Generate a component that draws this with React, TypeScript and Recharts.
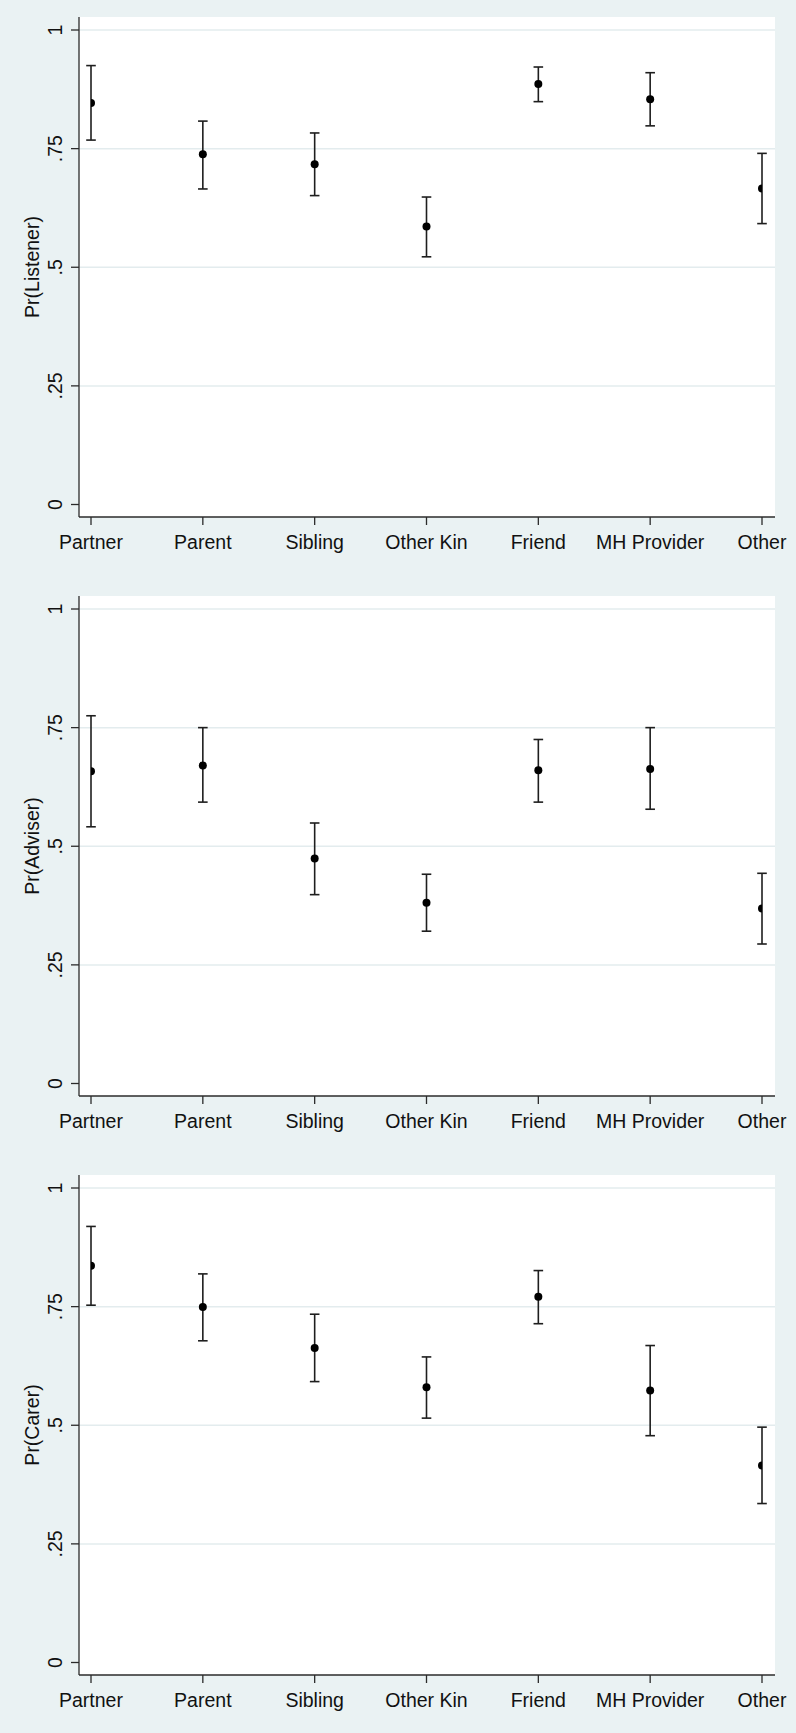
import React from 'react';
import {
  ScatterChart,
  Scatter,
  XAxis,
  YAxis,
  ErrorBar,
  ReferenceLine,
  CartesianGrid,
  Label,
} from 'recharts';

const categories = ['Partner', 'Parent', 'Sibling', 'Other Kin', 'Friend', 'MH Provider', 'Other'];

const listenerEst = [0.846, 0.738, 0.717, 0.586, 0.886, 0.854, 0.666];
const listenerLo = [0.768, 0.665, 0.651, 0.522, 0.849, 0.798, 0.592];
const listenerHi = [0.925, 0.808, 0.783, 0.648, 0.922, 0.910, 0.740];

const adviserEst = [0.658, 0.670, 0.474, 0.381, 0.660, 0.663, 0.369];
const adviserLo = [0.541, 0.593, 0.398, 0.321, 0.593, 0.578, 0.294];
const adviserHi = [0.775, 0.750, 0.549, 0.441, 0.725, 0.750, 0.443];

const carerEst = [0.836, 0.749, 0.663, 0.580, 0.771, 0.573, 0.415];
const carerLo = [0.753, 0.678, 0.592, 0.515, 0.714, 0.478, 0.335];
const carerHi = [0.919, 0.819, 0.734, 0.644, 0.826, 0.668, 0.496];

const yTicks = [0, 0.25, 0.5, 0.75, 1];
const yTickLabels = ['0', '.25', '.5', '.75', '1'];
const gridValues = [0.25, 0.5, 0.75, 1];
const xTicks = [1, 2, 3, 4, 5, 6, 7];

const FONT = '"Liberation Sans", Arial, sans-serif';
const AXIS = '#2b2b2b';
const FS = 19.5;

function buildData(est: number[], lo: number[], hi: number[]) {
  return categories.map((c, i) => ({
    x: i + 1,
    name: c,
    y: est[i],
    err: [est[i] - lo[i], hi[i] - est[i]],
  }));
}

const YTick = (props: any) => {
  const { x, y, payload } = props;
  const idx = yTicks.indexOf(payload.value);
  const lbl = idx >= 0 ? yTickLabels[idx] : String(payload.value);
  return (
    <text
      x={x}
      y={y}
      transform={`rotate(-90, ${x}, ${y})`}
      textAnchor="middle"
      fontSize={FS}
      fontFamily={FONT}
      fill="#111"
    >
      {lbl}
    </text>
  );
};

const XTick = (props: any) => {
  const { x, y, payload } = props;
  const lbl = categories[payload.value - 1] ?? '';
  return (
    <text x={x} y={y + 14} textAnchor="middle" fontSize={FS} fontFamily={FONT} fill="#111">
      {lbl}
    </text>
  );
};

const makeYLabel = (title: string) => (props: any) => {
  const vb = props.viewBox || {};
  const x = (vb.x ?? 0) + 39;
  const y = (vb.y ?? 0) + (vb.height ?? 0) / 2;
  return (
    <text
      x={x}
      y={y}
      transform={`rotate(-90, ${x}, ${y})`}
      textAnchor="middle"
      fontSize={FS}
      fontFamily={FONT}
      fill="#111"
    >
      {title}
    </text>
  );
};

const Dot = (props: any) => <circle cx={props.cx} cy={props.cy} r={4} fill="#000" />;

const CHART_H = 575;
const PLOT_H = 500;
const MT = 17;
const XH = 40;

function Panel({ top, title, data }: any) {
  return (
    <div style={{ position: 'absolute', left: 0, top, width: 796, height: CHART_H }}>
      <ScatterChart
        width={796}
        height={CHART_H}
        margin={{ top: MT, right: 21, left: 0, bottom: CHART_H - MT - PLOT_H - XH }}
      >
        <CartesianGrid fill="#ffffff" stroke="none" horizontal={false} vertical={false} />
        {gridValues.map((v) => (
          <ReferenceLine key={v} y={v} stroke="#E3ECEE" strokeWidth={1.5} />
        ))}
        <XAxis
          type="number"
          dataKey="x"
          domain={[1, 7]}
          ticks={xTicks}
          padding={{ left: 12, right: 13 }}
          height={XH}
          tickSize={8}
          tickMargin={9.5}
          axisLine={{ stroke: AXIS, strokeWidth: 1.3 }}
          tickLine={{ stroke: AXIS, strokeWidth: 1.3 }}
          tick={<XTick />}
          interval={0}
          allowDataOverflow
        />
        <YAxis
          type="number"
          dataKey="y"
          domain={[0, 1]}
          ticks={yTicks}
          padding={{ top: 13, bottom: 12.5 }}
          width={79}
          tickSize={8}
          tickMargin={9}
          axisLine={{ stroke: AXIS, strokeWidth: 1.3 }}
          tickLine={{ stroke: AXIS, strokeWidth: 1.3 }}
          tick={<YTick />}
          interval={0}
        >
          <Label content={makeYLabel(title)} />
        </YAxis>
        <Scatter data={data} shape={<Dot />} isAnimationActive={false}>
          <ErrorBar dataKey="err" direction="y" width={4.8} stroke="#1e1e1e" strokeWidth={1.6} />
        </Scatter>
      </ScatterChart>
    </div>
  );
}

export default function App() {
  return (
    <div
      style={{
        position: 'absolute',
        left: 0,
        top: 0,
        width: 796,
        height: 1733,
        background: '#EAF2F3',
        fontFamily: FONT,
        overflow: 'hidden',
      }}
    >
      <Panel top={0} title="Pr(Listener)" data={buildData(listenerEst, listenerLo, listenerHi)} />
      <Panel top={578.7} title="Pr(Adviser)" data={buildData(adviserEst, adviserLo, adviserHi)} />
      <Panel top={1157.5} title="Pr(Carer)" data={buildData(carerEst, carerLo, carerHi)} />
    </div>
  );
}
